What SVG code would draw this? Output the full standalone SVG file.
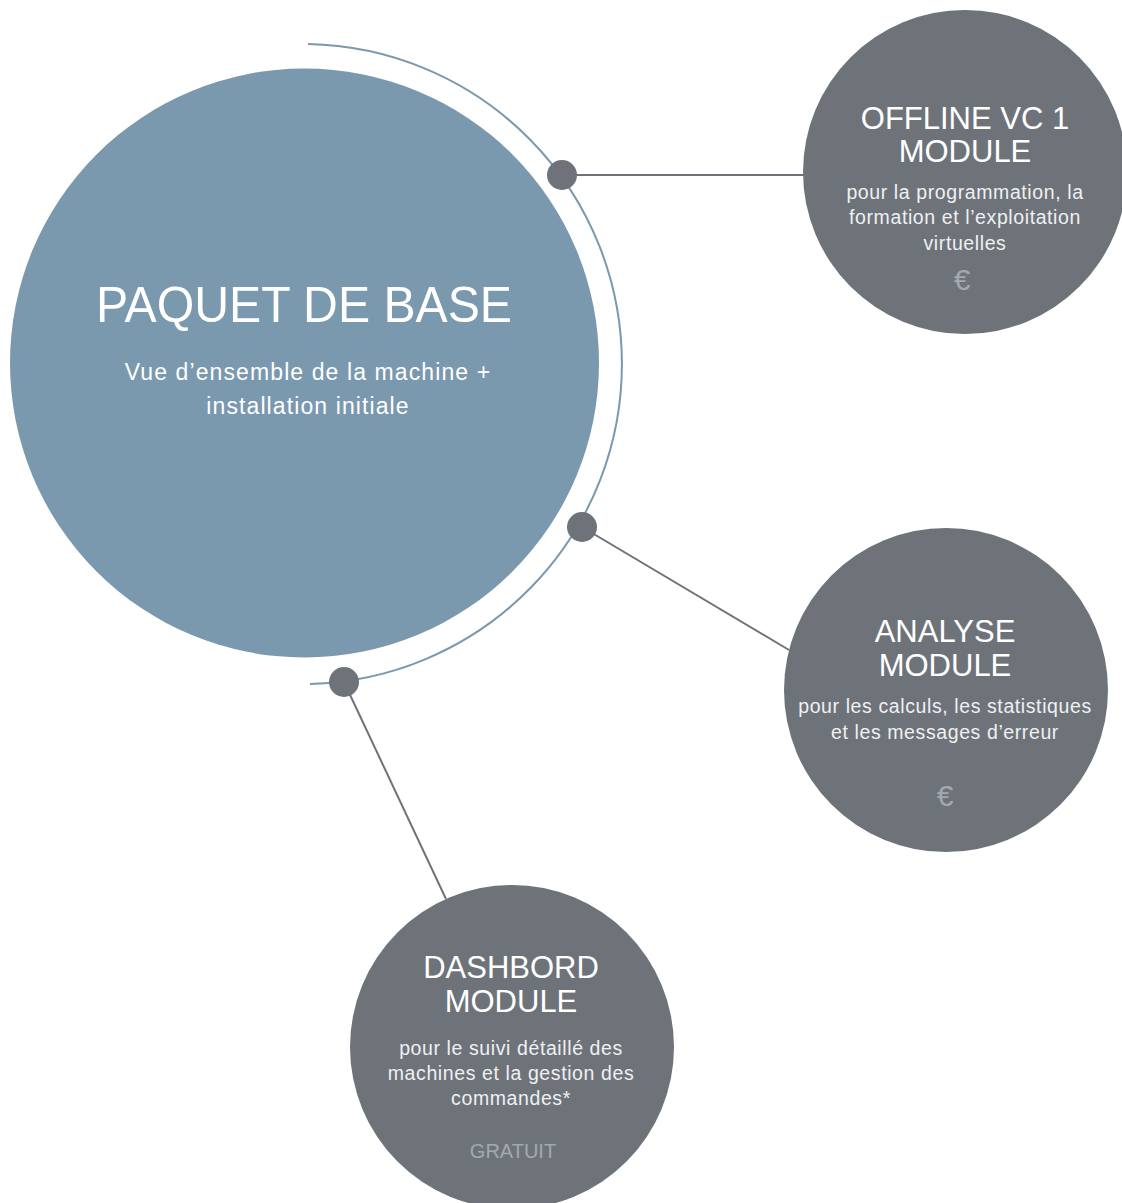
<svg xmlns="http://www.w3.org/2000/svg" width="1122" height="1203" viewBox="0 0 1122 1203">
<style>
.t{font-family:"Liberation Sans",Arial,sans-serif;fill:#ffffff;text-anchor:middle}
.h{font-size:31px}
.s{font-size:19.5px;fill:#eef0f2;letter-spacing:0.6px}
.p{font-family:"Liberation Sans",Arial,sans-serif;fill:#a3a9b0;text-anchor:middle}
.mod{fill:#6e737a}
.conn{stroke:#6e737a;stroke-width:2;fill:none}
.dot{fill:#6e737a}
</style>
<rect width="1122" height="1203" fill="#ffffff"/>
<g id="connectors">
<path d="M308,44.06 A320,320 0 0 1 310,683.9" fill="none" stroke="#7a98ae" stroke-width="2"/>
<line class="conn" x1="562" y1="175" x2="806" y2="175"/>
<line class="conn" x1="582" y1="527" x2="789" y2="650"/>
<line class="conn" x1="344" y1="682" x2="446" y2="899"/>
<circle class="dot" cx="562" cy="175" r="15"/>
<circle class="dot" cx="582" cy="527" r="15"/>
<circle class="dot" cx="344" cy="682" r="15"/>
</g>
<g id="base">
<circle cx="304.5" cy="363" r="294.5" fill="#7a98ae"/>
<text class="t" x="304" y="322" font-size="50" textLength="416" lengthAdjust="spacingAndGlyphs">PAQUET DE BASE</text>
<text class="t" x="308" y="380" font-size="23" fill="#eef2f5" letter-spacing="1.1">Vue d’ensemble de la machine +</text>
<text class="t" x="308" y="414" font-size="23" fill="#eef2f5" letter-spacing="1.1">installation initiale</text>
</g>
<g id="offline">
<circle class="mod" cx="965" cy="172" r="162"/>
<text class="t h" x="965" y="129">OFFLINE VC 1</text>
<text class="t h" x="965" y="162">MODULE</text>
<text class="t s" x="965" y="199">pour la programmation, la</text>
<text class="t s" x="965" y="224">formation et l’exploitation</text>
<text class="t s" x="965" y="250">virtuelles</text>
<text class="p" x="962" y="290" font-size="30">€</text>
</g>
<g id="analyse">
<circle class="mod" cx="946" cy="690" r="162"/>
<text class="t h" x="945" y="642">ANALYSE</text>
<text class="t h" x="945" y="676">MODULE</text>
<text class="t s" x="945" y="713">pour les calculs, les statistiques</text>
<text class="t s" x="945" y="739">et les messages d’erreur</text>
<text class="p" x="945" y="806" font-size="30">€</text>
</g>
<g id="dashbord">
<circle class="mod" cx="512" cy="1047" r="162"/>
<text class="t h" x="511" y="978">DASHBORD</text>
<text class="t h" x="511" y="1012">MODULE</text>
<text class="t s" x="511" y="1055">pour le suivi détaillé des</text>
<text class="t s" x="511" y="1080">machines et la gestion des</text>
<text class="t s" x="511" y="1105">commandes*</text>
<text class="p" x="513" y="1158" font-size="20">GRATUIT</text>
</g>
</svg>
